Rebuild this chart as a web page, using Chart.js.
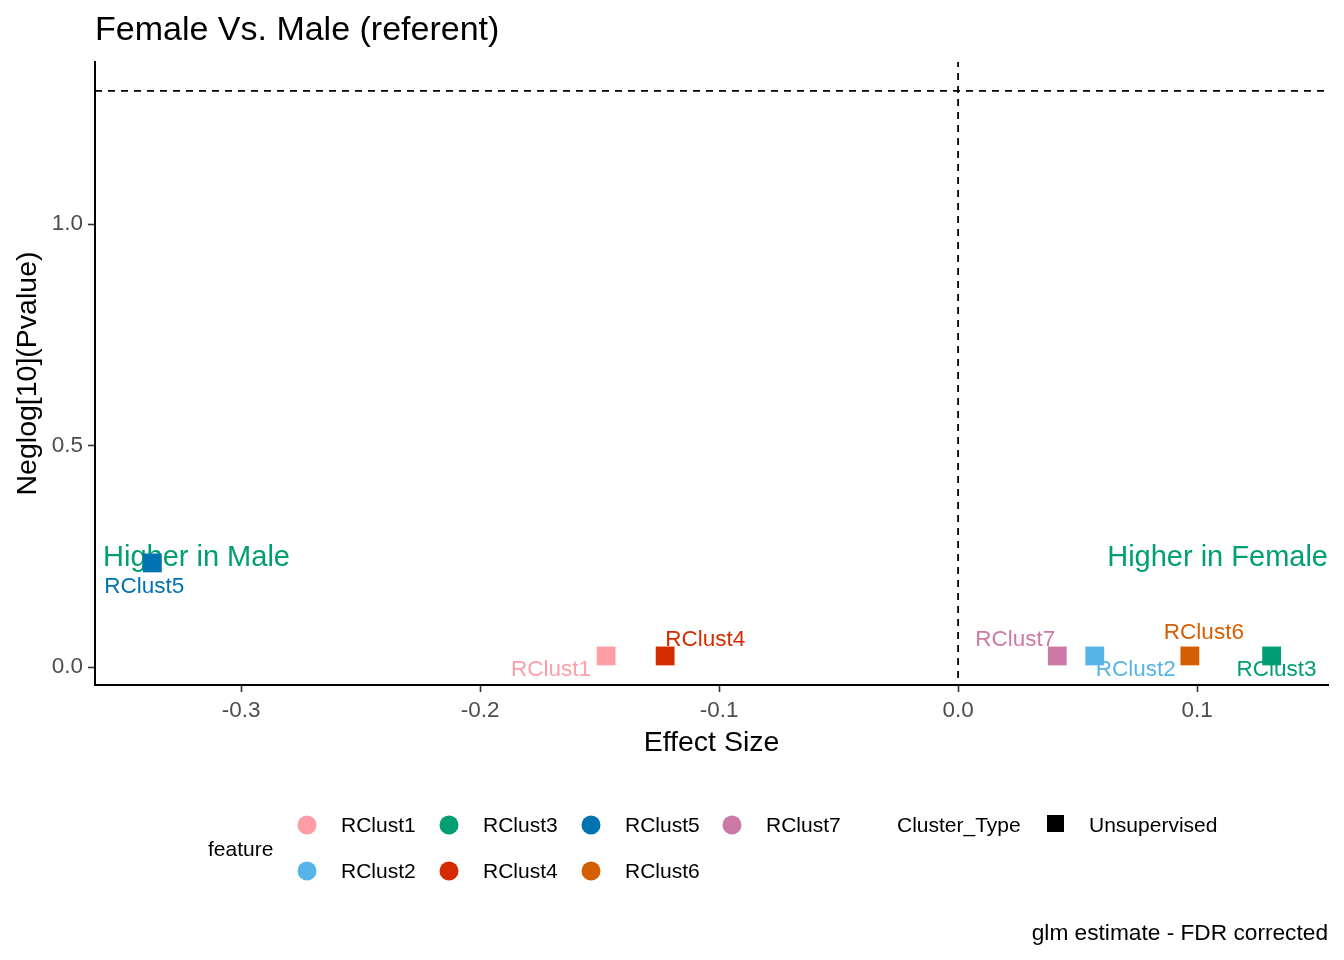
<!DOCTYPE html>
<html>
<head>
<meta charset="utf-8">
<script src="https://cdn.jsdelivr.net/npm/chart.js@4"></script>
<style>
html,body{margin:0;padding:0;background:#fff;}
#wrap{width:1344px;height:960px;position:relative;}
</style>
</head>
<body>
<div id="wrap"><canvas id="c" width="1344" height="960"></canvas></div>
<script>
// ---- data ----
const features = ["RClust1","RClust2","RClust3","RClust4","RClust5","RClust6","RClust7"];
const effectSize = [-0.1473, 0.0572, 0.1312, -0.1226, -0.3372, 0.0970, 0.0415];
const negLogP = [0.025, 0.025, 0.025, 0.025, 0.235, 0.025, 0.025];
const featureColors = ["#FF9DA7","#56B4E9","#009E73","#D52B00","#0072B2","#D55E00","#CC79A7"];
const xTicks = [-0.3, -0.2, -0.1, 0.0, 0.1];
const yTicks = [0.0, 0.5, 1.0];
const pThreshold = -Math.log10(0.05);
const legendOrder = ["RClust1","RClust3","RClust5","RClust7","RClust2","RClust4","RClust6"];

// ---- layout/style (not data) ----
const X_MIN = -0.3612, X_MAX = 0.1548, Y_MIN = -0.0406, Y_MAX = 1.366;
const FONT = "'Liberation Sans', Arial, sans-serif";
const labelNudge = { // pixel offsets of repelled labels
  RClust1:[-55,14], RClust2:[41,14], RClust3:[5,14], RClust4:[40,-16],
  RClust5:[-8,24], RClust6:[14,-23], RClust7:[-42,-16]
};

const pointDatasets = features.map((f,i)=>({
  type:'scatter',
  label:f,
  data:[{x:effectSize[i], y:negLogP[i]}],
  backgroundColor:featureColors[i],
  borderWidth:0,
  pointStyle:'rect',
  pointRadius:13.3,
  pointHoverRadius:13.3,
  order:1
}));

const lineDatasets = [
  {type:'line', label:'pthr', data:[{x:X_MIN,y:pThreshold},{x:X_MAX,y:pThreshold}],
   borderColor:'#000', borderWidth:1.8, borderDash:[7,6], pointRadius:0, fill:false, order:2},
  {type:'line', label:'zero', data:[{x:0,y:Y_MIN},{x:0,y:Y_MAX}],
   borderColor:'#000', borderWidth:1.8, borderDash:[7,6], borderDashOffset:-7, pointRadius:0, fill:false, order:2}
];

const overlay = {
  id:'overlay',
  beforeDatasetsDraw(chart){
    const ctx = chart.ctx, a = chart.chartArea, ys = chart.scales.y;
    ctx.save();
    ctx.fillStyle = '#009E73';
    ctx.font = `29px ${FONT}`;
    ctx.textBaseline = 'middle';
    const yy = ys.getPixelForValue(0.25) + 2;
    ctx.textAlign = 'left';
    ctx.fillText('Higher in Male', a.left + 8, yy);
    ctx.textAlign = 'right';
    ctx.fillText('Higher in Female', a.right, yy);
    ctx.restore();
  },
  afterDatasetsDraw(chart){
    const ctx = chart.ctx, xs = chart.scales.x, ys = chart.scales.y;
    ctx.save();
    ctx.font = `22.5px ${FONT}`;
    ctx.textAlign = 'center';
    ctx.textBaseline = 'middle';
    features.forEach((f,i)=>{
      const px = xs.getPixelForValue(effectSize[i]);
      const py = ys.getPixelForValue(negLogP[i]);
      const n = labelNudge[f];
      ctx.fillStyle = featureColors[i];
      ctx.fillText(f, px + n[0], py + n[1]);
    });
    ctx.restore();
  },
  afterDraw(chart){
    const ctx = chart.ctx;
    ctx.save();
    // title
    ctx.fillStyle = '#000';
    ctx.textBaseline = 'middle';
    ctx.textAlign = 'left';
    ctx.font = `34px ${FONT}`;
    ctx.fillText('Female Vs. Male (referent)', 95, 31);
    // legend
    ctx.font = `21px ${FONT}`;
    ctx.fillText('feature', 208, 850);
    const colX = [307, 449, 591, 732];
    const rowY = [826, 872];
    legendOrder.forEach((f,k)=>{
      const col = k % 4, row = Math.floor(k / 4);
      const i = features.indexOf(f);
      ctx.fillStyle = featureColors[i];
      ctx.beginPath();
      ctx.arc(colX[col], rowY[row] - 1, 9.5, 0, Math.PI*2);
      ctx.fill();
      ctx.fillStyle = '#000';
      ctx.fillText(f, colX[col] + 34, rowY[row]);
    });
    ctx.fillText('Cluster_Type', 897, 826);
    ctx.fillRect(1047, 815, 17, 17);
    ctx.fillText('Unsupervised', 1089, 826);
    // caption
    ctx.textAlign = 'right';
    ctx.font = `22.7px ${FONT}`;
    ctx.fillText('glm estimate - FDR corrected', 1328, 934);
    ctx.restore();
  }
};

new Chart(document.getElementById('c'), {
  data:{ datasets:[...lineDatasets, ...pointDatasets] },
  options:{
    responsive:false,
    animation:false,
    devicePixelRatio:1,
    layout:{ padding:{ top:62, right:16, bottom:275-75, left:0 } },
    plugins:{ legend:{display:false}, tooltip:{enabled:false}, title:{display:false} },
    scales:{
      x:{
        type:'linear', min:X_MIN, max:X_MAX,
        afterBuildTicks(s){ s.ticks = xTicks.map(v=>({value:v})); },
        afterFit(s){ s.height = 75; },
        ticks:{ color:'#4D4D4D', font:{family:FONT, size:22.5}, padding:5,
                callback:v=>v.toFixed(1), autoSkip:false, maxRotation:0 },
        grid:{ drawOnChartArea:false, drawTicks:true, tickLength:7, tickColor:'#333', tickWidth:1.6 },
        border:{ display:true, color:'#000', width:2 },
        title:{ display:true, text:'Effect Size', color:'#000', font:{family:FONT, size:28.5}, padding:{top:0,bottom:0} }
      },
      y:{
        type:'linear', min:Y_MIN, max:Y_MAX,
        afterBuildTicks(s){ s.ticks = yTicks.map(v=>({value:v})); },
        afterFit(s){ s.width = 95; },
        ticks:{ color:'#4D4D4D', font:{family:FONT, size:22.5}, padding:5,
                callback:v=>v.toFixed(1), autoSkip:false },
        grid:{ drawOnChartArea:false, drawTicks:true, tickLength:7, tickColor:'#333', tickWidth:1.6 },
        border:{ display:true, color:'#000', width:2 },
        title:{ display:true, text:'Neglog[10](Pvalue)', color:'#000', font:{family:FONT, size:28.5}, padding:{top:11,bottom:0} }
      }
    }
  },
  plugins:[overlay]
});
</script>
</body>
</html>
